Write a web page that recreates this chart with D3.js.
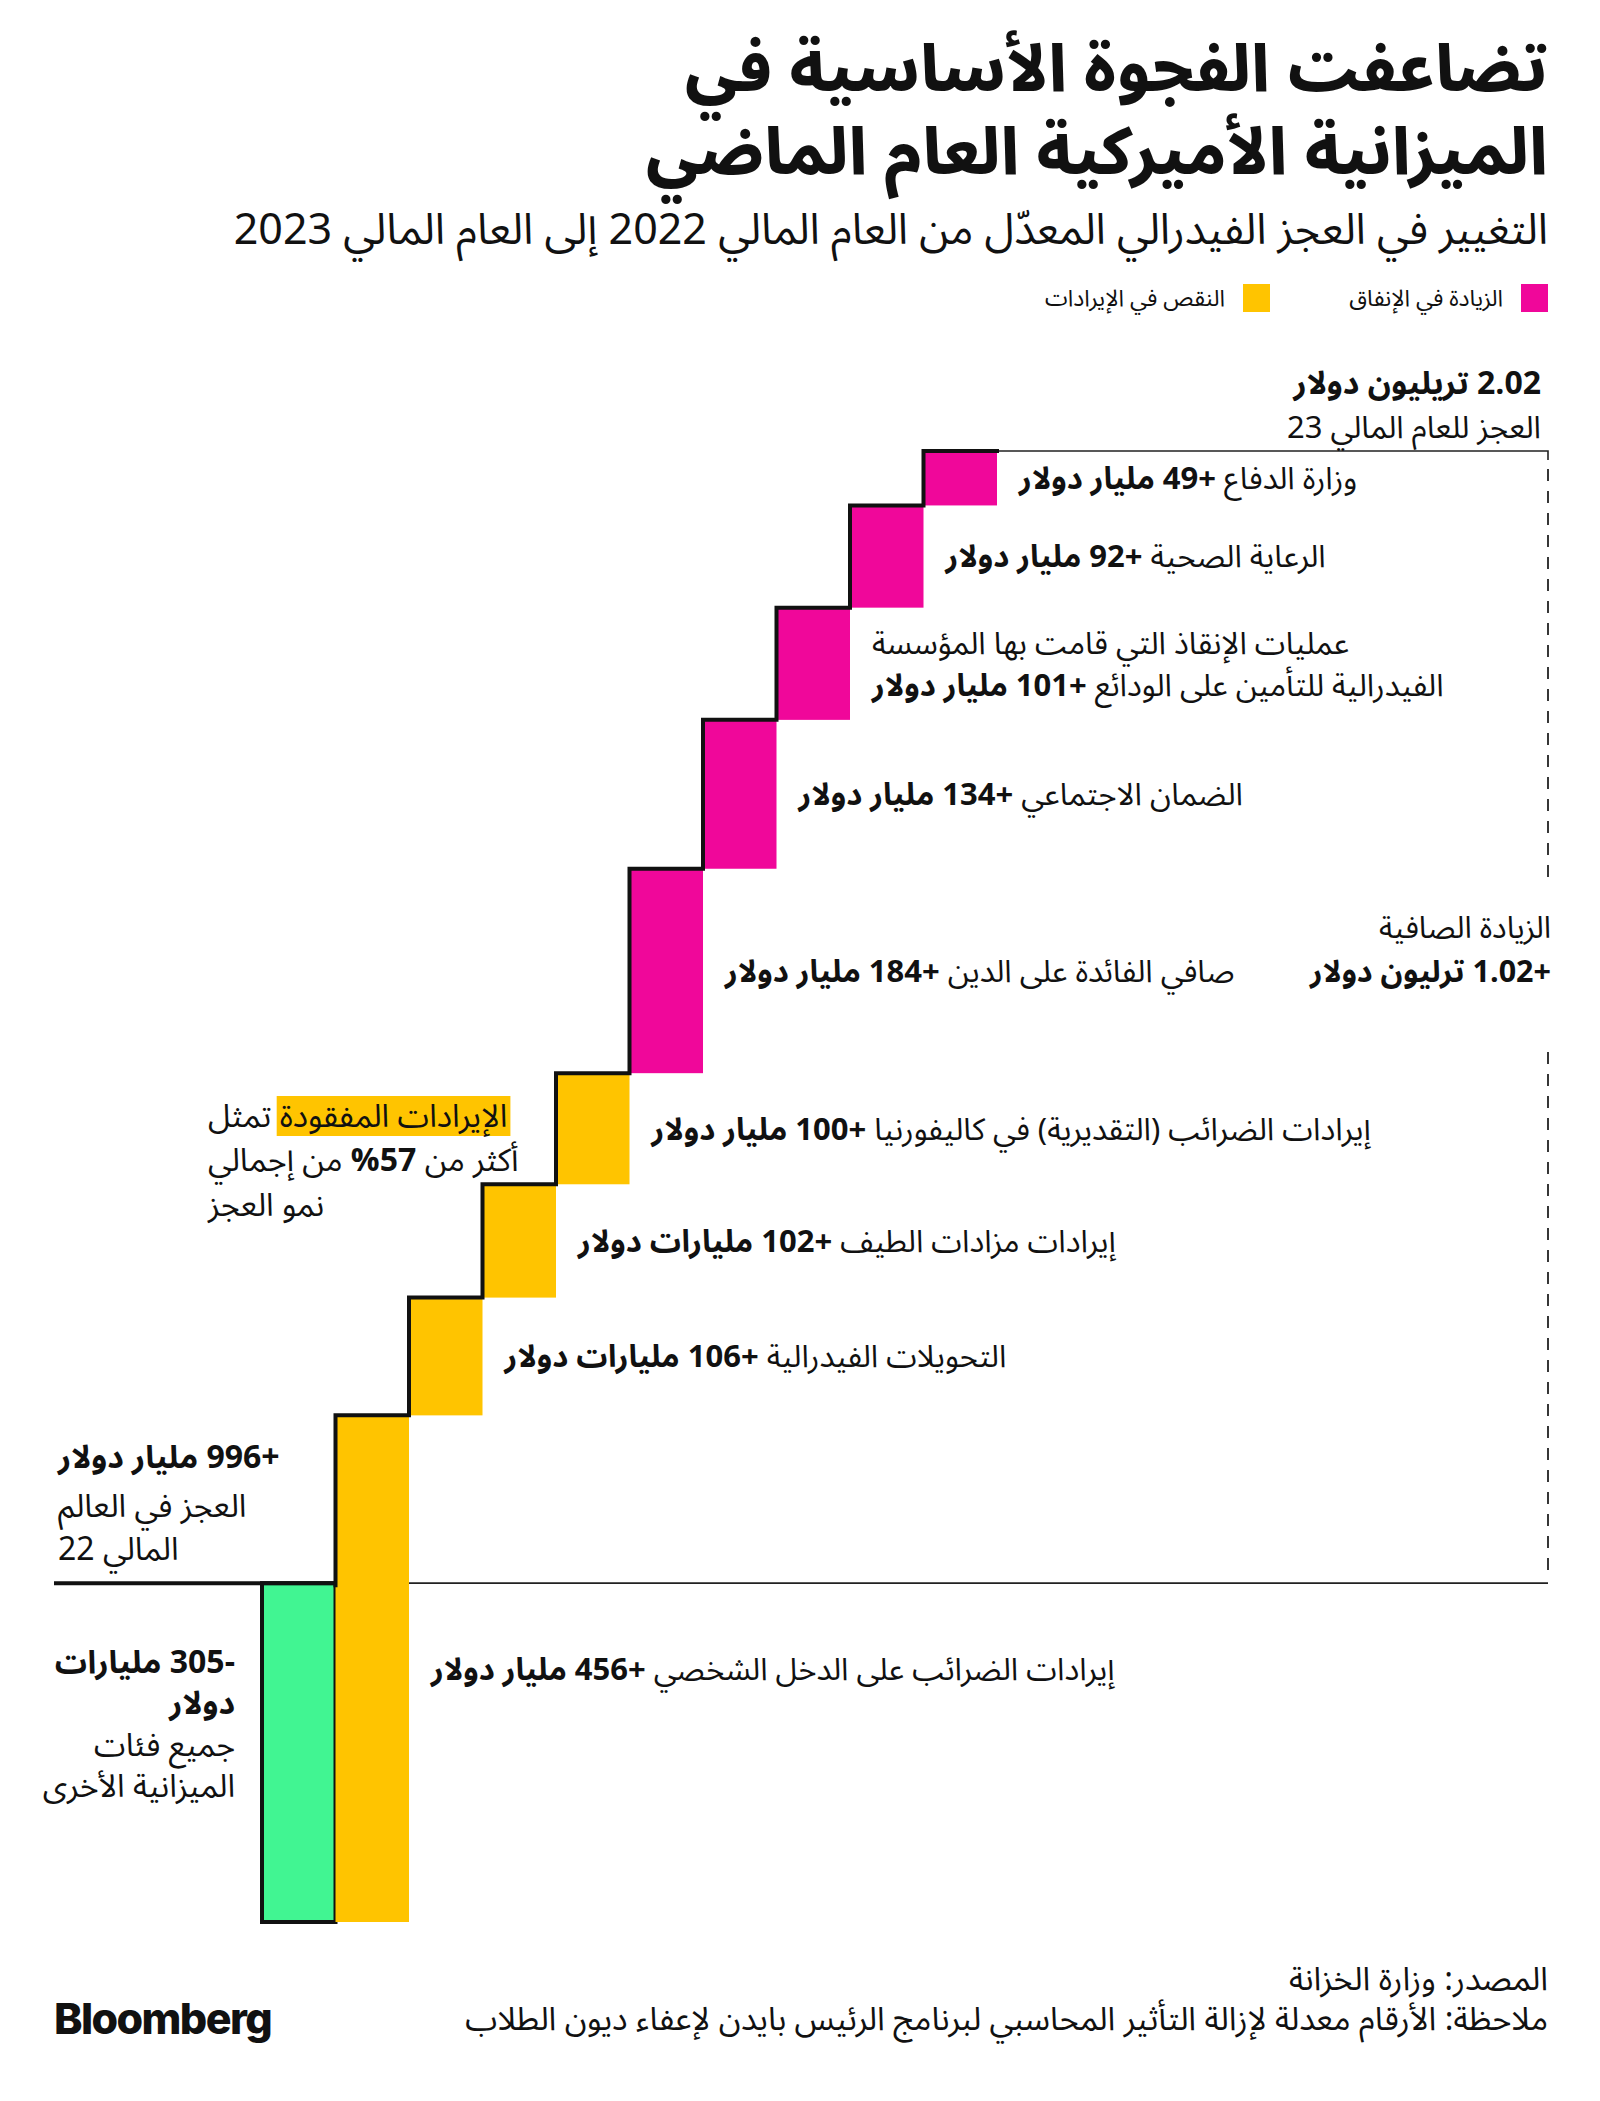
<!DOCTYPE html>
<html><head><meta charset="utf-8">
<script src="https://cdn.jsdelivr.net/npm/d3@7"></script>
<style>
body{margin:0;background:#fff;}
svg text{font-family:"Noto Sans Arabic","Noto Kufi Arabic","DejaVu Sans Condensed","DejaVu Sans",sans-serif;fill:#111;}
</style></head><body>
<div id="chart"></div>
<script>
// ---- data ----
const title = ["تضاعفت الفجوة الأساسية في", "الميزانية الأميركية العام الماضي"];
const subtitle = "التغيير في العجز الفيدرالي المعدّل من العام المالي 2022 إلى العام المالي 2023";
const legendLabels = ["الزيادة في الإنفاق", "النقص في الإيرادات"];
const startValue = 996;      // FY22 deficit, $bn
const endValue = 2015;       // FY23 deficit, $bn (2.02T)
const categories = ["جميع فئات الميزانية الأخرى", "إيرادات الضرائب على الدخل الشخصي", "التحويلات الفيدرالية", "إيرادات مزادات الطيف", "إيرادات الضرائب (التقديرية) في كاليفورنيا", "صافي الفائدة على الدين", "الضمان الاجتماعي", "عمليات الإنقاذ التي قامت بها المؤسسة|الفيدرالية للتأمين على الودائع", "الرعاية الصحية", "وزارة الدفاع"];
const values = [-305, 456, 106, 102, 100, 184, 134, 101, 92, 49];
const kinds = ["other", "revenue", "revenue", "revenue", "revenue", "spending", "spending", "spending", "spending", "spending"];
const amountLabels = ["-305 مليارات دولار", "+456 مليار دولار", "+106 مليارات دولار", "+102 مليارات دولار", "+100 مليار دولار", "+184 مليار دولار", "+134 مليار دولار", "+101 مليار دولار", "+92 مليار دولار", "+49 مليار دولار"];
const startLabel = ["+996 مليار دولار", "العجز في العالم", "المالي 22"];
const endLabel = ["2.02 تريليون دولار", "العجز للعام المالي 23"];
const netLabel = ["الزيادة الصافية", "+1.02 ترليون دولار"];
const otherLabel = ["-305 مليارات", "دولار", "جميع فئات", "الميزانية الأخرى"];
const noteHighlight = "الإيرادات المفقودة";
const noteLines = [" تمثل", "أكثر من |57%| من إجمالي", "نمو العجز"];
const source = "المصدر: وزارة الخزانة";
const note = "ملاحظة: الأرقام معدلة لإزالة التأثير المحاسبي لبرنامج الرئيس بايدن لإعفاء ديون الطلاب";

const colors = {spending: "#F0079A", revenue: "#FFC400", other: "#41F592"};

// ---- layout ----
const W = 1600, H = 2101;
const svg = d3.select("#chart").append("svg").attr("width", W).attr("height", H);
const RIGHT = 1548;
const FS = 31;

// cumulative steps
let cum = startValue;
const steps = values.map((v, i) => {
  const s = {i, v, kind: kinds[i], cat: categories[i], amt: amountLabels[i]};
  if (v < 0) { s.y0 = cum + v; s.y1 = cum; }
  else { s.y0 = cum; s.y1 = cum + v; }
  cum += v;
  s.after = cum;
  return s;
});
const minV = d3.min(steps, d => d.y0);

const x = d3.scaleBand().domain(d3.range(values.length)).range([262, 997]).padding(0);
const y = d3.scaleLinear().domain([minV, endValue]).range([1922, 451]);
const bw = x.bandwidth();

function rtlText(px, py, size, weight, anchor) {
  return svg.append("text").attr("x", px).attr("y", py).attr("dy", "0.35em")
    .attr("direction", "rtl").attr("text-anchor", anchor || "start")
    .attr("font-size", size).attr("font-weight", weight || 400);
}

// title
svg.append("g").selectAll("text").data(title).join("text")
  .attr("x", RIGHT).attr("y", (d, i) => 91 + i * 83)
  .attr("direction", "rtl").attr("text-anchor", "start")
  .attr("font-size", 65).attr("font-weight", 800).text(d => d);

svg.append("text").attr("x", RIGHT).attr("y", 244)
  .attr("direction", "rtl").attr("text-anchor", "start")
  .attr("font-size", 43).text(subtitle);

// legend
const legKinds = ["spending", "revenue"];
const legX = [RIGHT, 1270];
const lg = svg.append("g").selectAll("g").data(legendLabels).join("g");
lg.append("rect").attr("x", (d, i) => legX[i] - 27).attr("y", 284).attr("width", 27).attr("height", 28)
  .attr("fill", (d, i) => colors[legKinds[i]]);
lg.append("text").attr("x", (d, i) => legX[i] - 45).attr("y", 306)
  .attr("direction", "rtl").attr("text-anchor", "start").attr("font-size", 23).text(d => d);

// bars
svg.append("g").selectAll("rect").data(steps).join("rect")
  .attr("x", d => x(d.i)).attr("width", bw)
  .attr("y", d => y(d.y1)).attr("height", d => y(d.y0) - y(d.y1))
  .attr("fill", d => colors[d.kind])
  .attr("stroke", d => d.kind === "other" ? "#111" : "none")
  .attr("stroke-width", 4);

// thin reference lines
const topY = y(endValue), baseY = y(startValue);
svg.append("path").attr("fill", "none").attr("stroke", "#222").attr("stroke-width", 1.6)
  .attr("d", `M${x(9) + bw},${topY}H${RIGHT}v9 M${x(1) + bw},${baseY}H${RIGHT}`);
svg.append("path").attr("fill", "none").attr("stroke", "#222").attr("stroke-width", 1.8)
  .attr("stroke-dasharray", "12,10")
  .attr("d", `M${RIGHT},${topY + 18}V878 M${RIGHT},1052V${baseY - 4}`);

// thick baseline + staircase
svg.append("line").attr("x1", 54).attr("x2", x(1)).attr("y1", baseY).attr("y2", baseY)
  .attr("stroke", "#111").attr("stroke-width", 4);
let d = `M${x(1)},${baseY + 2}`;
steps.slice(1).forEach(s => { d += `V${y(s.after)}H${s.i < 9 ? x(s.i + 1) : x(s.i) + bw}`; });
svg.append("path").attr("d", d).attr("fill", "none").attr("stroke", "#111")
  .attr("stroke-width", 4).attr("stroke-linejoin", "miter").attr("stroke-linecap", "square");

// bar labels
steps.slice(1).forEach(s => {
  const lines = s.cat.split("|");
  const mid = (y(s.y0) + y(s.y1)) / 2;
  const lh = 42;
  const y0 = mid - (lines.length - 1) * lh / 2;
  lines.forEach((ln, j) => {
    const t = rtlText(x(s.i) + bw + 22, y0 + j * lh, FS, 400, "end");
    t.append("tspan").text(ln);
    if (j === lines.length - 1) t.append("tspan").attr("font-weight", 700).text(" " + s.amt);
  });
});

// end label
rtlText(1541, 383, 32, 700).text(endLabel[0]);
rtlText(1541, 427, 31).text(endLabel[1]);

// net label
rtlText(1551, 927, 30.5).text(netLabel[0]);
rtlText(1551, 971, 30.5, 700).text(netLabel[1]);

// start label (left aligned)
startLabel.forEach((t, j) => {
  rtlText(58, [1457, 1506, 1549][j], FS + 1, j === 0 ? 700 : 400, "end").text(t);
});

// other categories label (right aligned)
otherLabel.forEach((t, j) => {
  rtlText(235, [1662, 1703, 1745, 1786][j], FS + 1, j < 2 ? 700 : 400).text(t);
});

// annotation with highlight (left aligned)
const annX = 208;
const hl = svg.append("rect").attr("fill", colors.revenue);
const t1 = rtlText(annX, 1116, FS + 1, 400, "end");
t1.append("tspan").text(noteHighlight);
t1.append("tspan").text(noteLines[0]);
const hlW = t1.node().getSubStringLength(0, noteHighlight.length);
const totW = t1.node().getComputedTextLength();
hl.attr("x", annX + totW - hlW - 3).attr("y", 1096).attr("width", hlW + 6).attr("height", 40);
const t2 = rtlText(annX, 1160, FS + 1, 400, "end");
noteLines[1].split("|").forEach((p, k) => t2.append("tspan").attr("font-weight", k === 1 ? 700 : 400).text(p));
rtlText(annX, 1205, FS + 1, 400, "end").text(noteLines[2]);

// footer
rtlText(RIGHT, 1979, 32.5).text(source);
rtlText(RIGHT, 2019, 32.5).text(note);
svg.append("text").attr("x", 54).attr("y", 2034)
  .style("font-family", "Inter, Roboto, 'Liberation Sans', sans-serif")
  .attr("font-size", 43).attr("font-weight", 800).attr("letter-spacing", -1.6).text("Bloomberg");
</script></body></html>
